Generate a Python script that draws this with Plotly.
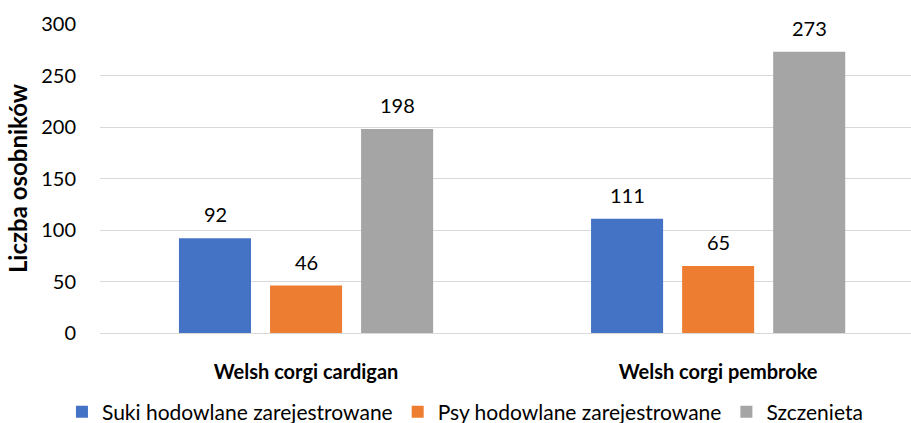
import plotly.graph_objects as go

categories = ["Welsh corgi cardigan", "Welsh corgi pembroke"]
series_names = ["Suki hodowlane zarejestrowane", "Psy hodowlane zarejestrowane", "Szczenieta"]
suki = [92, 111]
psy = [46, 65]
szczenieta = [198, 273]
colors = ["#4472C4", "#ED7D31", "#A5A5A5"]

FONT = "Lato, 'Open Sans', sans-serif"
SLOT_PX = 91  # horizontal pixel distance between bars within a group

fig = go.Figure()
all_series = [suki, psy, szczenieta]
for name, vals, col in zip(series_names, all_series, colors):
    fig.add_trace(go.Bar(
        x=categories, y=vals, name=name, marker_color=col,
        marker_line_width=0,
    ))

# value labels above the bars
annotations = []
for i, vals in enumerate(all_series):
    for cat, v in zip(categories, vals):
        annotations.append(dict(
            x=cat, y=v, xref="x", yref="y", text=str(v), showarrow=False,
            xshift=(i - 1) * SLOT_PX, yshift=24, yanchor="middle",
            font=dict(size=20, color="#000000", family=FONT),
        ))

fig.update_layout(
    width=911, height=423,
    margin=dict(l=100, r=0, t=24, b=90),
    paper_bgcolor="white", plot_bgcolor="white",
    barmode="group", bargap=0.337, bargroupgap=0.209,
    font=dict(family=FONT, color="#000000"),
    showlegend=True,
    legend=dict(orientation="h", x=0.45, xanchor="center",
                yref="container", y=0.026, yanchor="middle",
                font=dict(size=21, color="#000000", family=FONT),
                bgcolor="rgba(0,0,0,0)", itemwidth=30, traceorder="normal"),
    annotations=annotations,
)
fig.update_xaxes(
    type="category", range=[-0.5, 1.468],
    tickfont=dict(size=20, family=FONT, color="#000000", weight="bold"),
    showgrid=False, showline=False, ticks="", ticklabelstandoff=25,
)
fig.update_yaxes(
    range=[0, 300], dtick=50, showgrid=True, gridcolor="#D9D9D9", gridwidth=1,
    zeroline=True, zerolinecolor="#D9D9D9", zerolinewidth=1,
    tickfont=dict(size=20, family=FONT, color="#000000"),
    ticks="", ticklabelstandoff=23,
    title=dict(text="<b>Liczba osobników</b>", font=dict(size=24, family=FONT, color="#000000"), standoff=6),
)

fig.write_html("out.html")
